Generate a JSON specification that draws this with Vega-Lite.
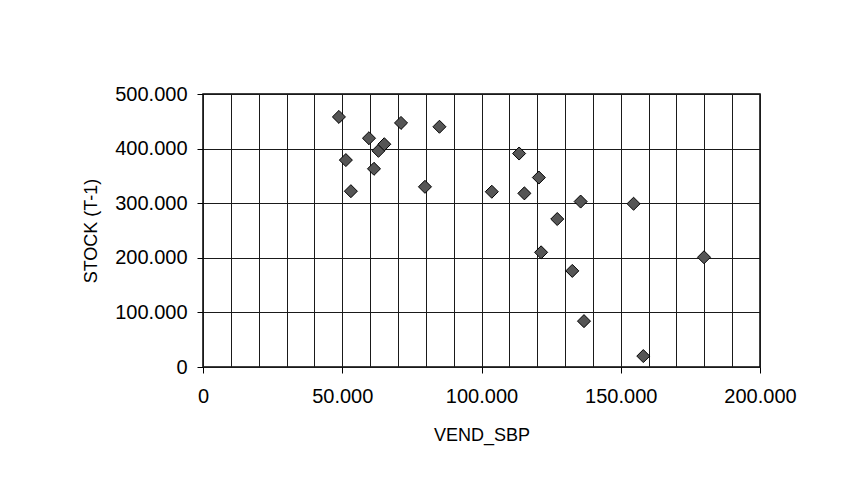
{
  "$schema": "https://vega.github.io/schema/vega-lite/v6.json",
  "width": 557,
  "height": 273,
  "autosize": {"type": "none"},
  "padding": {"left": 203, "top": 94, "right": 84, "bottom": 126},
  "background": "white",
  "config": {
    "font": "Liberation Sans",
    "view": {"stroke": "black", "strokeWidth": 1.5},
    "axis": {
      "labelFont": "Liberation Sans",
      "titleFont": "Liberation Sans",
      "labelColor": "black",
      "titleColor": "black",
      "labelFontSize": 20,
      "titleFontSize": 18,
      "titleFontWeight": "normal",
      "domain": false,
      "gridColor": "#1a1a1a",
      "gridOpacity": 1,
      "gridWidth": 1,
      "tickColor": "black",
      "tickSize": 6
    }
  },
  "data": {
    "values": [
      {"VEND_SBP": 48800, "STOCK": 458000},
      {"VEND_SBP": 51300, "STOCK": 379000},
      {"VEND_SBP": 53100, "STOCK": 322000},
      {"VEND_SBP": 59600, "STOCK": 419000},
      {"VEND_SBP": 61400, "STOCK": 363000},
      {"VEND_SBP": 63000, "STOCK": 396000},
      {"VEND_SBP": 65100, "STOCK": 408000},
      {"VEND_SBP": 71100, "STOCK": 447000},
      {"VEND_SBP": 79700, "STOCK": 330000},
      {"VEND_SBP": 84900, "STOCK": 440000},
      {"VEND_SBP": 103700, "STOCK": 321000},
      {"VEND_SBP": 113500, "STOCK": 391000},
      {"VEND_SBP": 115400, "STOCK": 318000},
      {"VEND_SBP": 120600, "STOCK": 347000},
      {"VEND_SBP": 121400, "STOCK": 210000},
      {"VEND_SBP": 127200, "STOCK": 271000},
      {"VEND_SBP": 132600, "STOCK": 176000},
      {"VEND_SBP": 135600, "STOCK": 303000},
      {"VEND_SBP": 136800, "STOCK": 84000},
      {"VEND_SBP": 154600, "STOCK": 299000},
      {"VEND_SBP": 158100, "STOCK": 20000},
      {"VEND_SBP": 179900, "STOCK": 201000}
    ]
  },
  "mark": {"type": "point", "shape": "diamond", "filled": true, "size": 170, "fill": "#555555", "stroke": "black", "strokeWidth": 1, "opacity": 1},
  "encoding": {
    "x": {
      "field": "VEND_SBP",
      "type": "quantitative",
      "title": "VEND_SBP",
      "scale": {"domain": [0, 200000], "nice": false, "zero": true},
      "axis": {
        "values": [0, 10000, 20000, 30000, 40000, 50000, 60000, 70000, 80000, 90000, 100000, 110000, 120000, 130000, 140000, 150000, 160000, 170000, 180000, 190000, 200000],
        "labelExpr": "datum.value % 50000 === 0 ? replace(format(datum.value, ','), ',', '.') : ''",
        "tickOpacity": {"condition": {"test": "datum.value % 50000 === 0", "value": 1}, "value": 0},
        "labelPadding": 13,
        "titlePadding": 20,
        "labelFlush": false,
        "labelOverlap": false
      }
    },
    "y": {
      "field": "STOCK",
      "type": "quantitative",
      "title": "STOCK (T-1)",
      "scale": {"domain": [0, 500000], "nice": false, "zero": true},
      "axis": {
        "values": [0, 100000, 200000, 300000, 400000, 500000],
        "labelExpr": "replace(format(datum.value, ','), ',', '.')",
        "labelPadding": 10,
        "titlePadding": 14,
        "labelFlush": false,
        "labelOverlap": false
      }
    }
  }
}
